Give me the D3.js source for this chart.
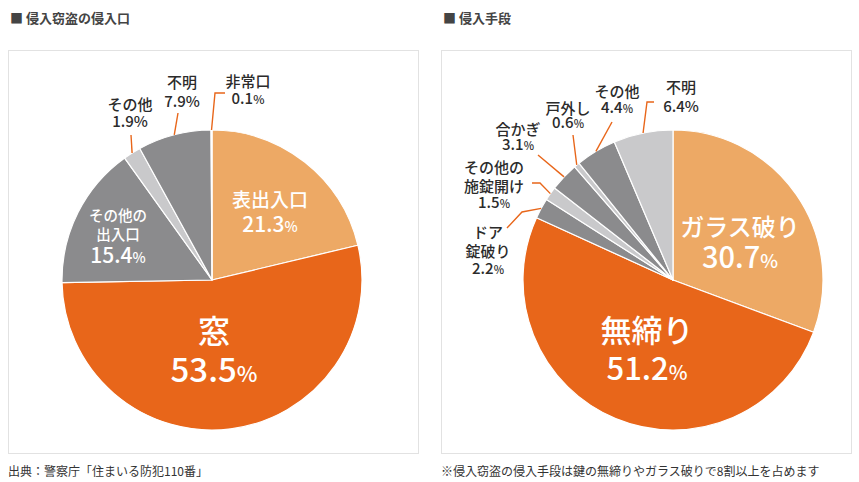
<!DOCTYPE html>
<html><head><meta charset="utf-8">
<script src="https://cdn.jsdelivr.net/npm/d3@7"></script>
<style>
html,body{margin:0;padding:0;background:#fff;}
svg{display:block;font-family:"Noto Sans CJK JP","Noto Sans",sans-serif;}
</style></head>
<body>
<svg id="c" width="859" height="482"></svg>
<script>
// ---- data ----
const titleLeft = "■ 侵入窃盗の侵入口";
const titleRight = "■ 侵入手段";
const noteLeft = "出典：警察庁「住まいる防犯110番」";
const noteRight = "※侵入窃盗の侵入手段は鍵の無締りやガラス破りで8割以上を占めます";

const entryCategories = ["表出入口", "窓", "その他の出入口", "その他", "不明", "非常口"];
const entryValues = [21.3, 53.5, 15.4, 1.9, 7.9, 0.1];

const methodCategories = ["ガラス破り", "無締り", "ドア錠破り", "その他の施錠開け", "合かぎ", "戸外し", "その他", "不明"];
const methodValues = [30.7, 51.2, 2.2, 1.5, 3.1, 0.6, 4.4, 6.4];

// ---- styles / layout ----
const C_LORANGE = "#EDA965", C_ORANGE = "#E8661A", C_GRAY = "#8B8B8D", C_LGRAY = "#C9C9CB";
const entryColors = [C_LORANGE, C_ORANGE, C_GRAY, C_LGRAY, C_GRAY, "#ffffff"];
const methodColors = [C_LORANGE, C_ORANGE, C_GRAY, C_LGRAY, C_GRAY, C_LGRAY, C_GRAY, C_LGRAY];
const R = 150;

// label layouts: offsets relative to pie centre
const entryLayout = [
  {inside:true, x:58, lines:[{y:-73,s:19}], vy:-48, vs:21, ps:14},
  {inside:true, x:2, lines:[{y:63,s:32}], vy:102, vs:33, ps:22},
  {inside:true, x:-94, lines:[{y:-59,s:14.5,t:"その他の"},{y:-40,s:14.5,t:"出入口"}], vy:-17, vs:21, ps:14},
  {x:-82, lines:[{y:-170,s:15}], vy:-153, vs:15, ps:15, leader:[[-81,-145]]},
  {x:-30, lines:[{y:-192,s:15}], vy:-173, vs:15, ps:15, leader:[[-34,-167]]},
  {x:36, lines:[{y:-193,s:15}], vy:-176, vs:15, ps:12, leader:[[3,-187],[13,-187]]}
];
const methodLayout = [
  {inside:true, x:67, lines:[{y:-44,s:24}], vy:-12, vs:29, ps:19},
  {inside:true, x:-26, lines:[{y:62,s:31}], vy:100, vs:31, ps:20},
  {x:-185, lines:[{y:-42,s:15,t:"ドア"},{y:-23,s:15,t:"錠破り"}], vy:-6, vs:15, ps:11, leader:[[-151,-68],[-166,-52]]},
  {x:-179, lines:[{y:-107,s:15,t:"その他の"},{y:-88,s:15,t:"施錠開け"}], vy:-72, vs:15, ps:11, leader:[[-133,-97],[-141,-97]]},
  {x:-155, lines:[{y:-145,s:15}], vy:-130, vs:15, ps:11, leader:[[-135,-125]]},
  {x:-105, lines:[{y:-166,s:15}], vy:-152, vs:15, ps:11, leader:[[-100,-145]]},
  {x:-56, lines:[{y:-183,s:15}], vy:-167, vs:15, ps:11, leader:[[-61,-158]]},
  {x:8, lines:[{y:-187,s:15}], vy:-168, vs:15, ps:15, leader:[[-26,-178],[-19,-178]]}
];

const svg = d3.select("#c");

function panel(x0, cx, title, note, cats, vals, colors, layout) {
  const g = svg.append("g");
  g.append("rect").attr("x", x0 + 0.5).attr("y", 50.5).attr("width", 410).attr("height", 403)
    .attr("fill", "#fff").attr("stroke", "#E2E2E2");
  g.append("text").attr("x", x0 + 2).attr("y", 23).attr("font-size", 13).attr("font-weight", 700)
    .attr("fill", "#444").text(title);
  g.append("text").attr("x", x0).attr("y", 476).attr("font-size", 12)
    .attr("fill", "#333").text(note);

  const cy = 280;
  const pg = g.append("g").attr("transform", `translate(${cx},${cy})`);
  const pie = d3.pie().sort(null).value(d => d.v);
  const data = pie(cats.map((c, i) => ({c, v: vals[i], i})));
  const arc = d3.arc().innerRadius(0).outerRadius(R);
  const edge = d3.arc().innerRadius(R).outerRadius(R);
  pg.selectAll("path.s").data(data).join("path").attr("class", "s")
    .attr("d", arc).attr("fill", d => colors[d.data.i])
    .attr("stroke", "#fff").attr("stroke-width", 1.2).attr("stroke-linejoin", "round");

  data.forEach(d => {
    const L = layout[d.data.i];
    const inside = !!L.inside;
    const fill = inside ? "#fff" : "#2b2b2b";
    if (L.leader) {
      const p0 = edge.centroid(d);
      const pts = [p0].concat(L.leader);
      pg.append("path").attr("d", d3.line()(pts)).attr("fill", "none")
        .attr("stroke", C_ORANGE).attr("stroke-width", 1.4);
    }
    const t = pg.append("text").attr("text-anchor", "middle")
      .attr("font-weight", 500).attr("fill", fill);
    L.lines.forEach(ln => {
      t.append("tspan").attr("x", L.x).attr("y", ln.y).attr("font-size", ln.s)
        .text(ln.t || d.data.c);
    });
    const vt = t.append("tspan").attr("x", L.x).attr("y", L.vy).attr("font-size", L.vs);
    vt.append("tspan").text(d3.format(".1f")(d.data.v));
    vt.append("tspan").attr("font-size", L.ps).text("%");
  });
}

panel(8, 212, titleLeft, noteLeft, entryCategories, entryValues, entryColors, entryLayout);
panel(441, 673, titleRight, noteRight, methodCategories, methodValues, methodColors, methodLayout);
</script>
</body></html>
